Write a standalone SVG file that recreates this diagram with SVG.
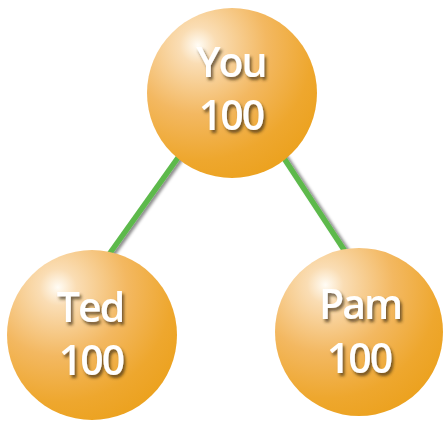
<svg xmlns="http://www.w3.org/2000/svg" width="443" height="421" viewBox="0 0 443 421">
  <defs>
    <radialGradient id="ball" cx="0.3" cy="0.22" r="0.9" fx="0.3" fy="0.22">
      <stop offset="0" stop-color="#FFFCF5"/>
      <stop offset="0.12" stop-color="#FADDB4"/>
      <stop offset="0.45" stop-color="#F3B861"/>
      <stop offset="0.75" stop-color="#EEA72E"/>
      <stop offset="1" stop-color="#EBA01A"/>
    </radialGradient>
    <filter id="textShadow" x="-20%" y="-20%" width="150%" height="160%">
      <feGaussianBlur in="SourceAlpha" stdDeviation="1.5"/>
      <feOffset dx="1.5" dy="2.5" result="blur"/>
      <feFlood flood-color="#3a2a10" flood-opacity="0.7"/>
      <feComposite in2="blur" operator="in"/>
      <feMerge>
        <feMergeNode/>
        <feMergeNode in="SourceGraphic"/>
      </feMerge>
    </filter>
    <filter id="lineShadow" x="-30%" y="-10%" width="160%" height="120%">
      <feGaussianBlur in="SourceAlpha" stdDeviation="1.5"/>
      <feOffset dx="3" dy="1" result="blur"/>
      <feFlood flood-color="#000" flood-opacity="0.45"/>
      <feComposite in2="blur" operator="in"/>
      <feMerge>
        <feMergeNode/>
        <feMergeNode in="SourceGraphic"/>
      </feMerge>
    </filter>
  </defs>
  <style>
    .edge { stroke: #5DB94B; stroke-width: 5.5; fill: none; }
    .ball { fill: url(#ball); }
    .label { font-family: "Open Sans", "Liberation Sans", sans-serif; font-weight: 600; font-size: 41px; fill: #ffffff; text-anchor: middle; letter-spacing: -2px; }
  </style>

  <rect width="443" height="421" fill="#ffffff"/>

  <g id="connectors" filter="url(#lineShadow)">
    <line class="edge" x1="192" y1="138" x2="100" y2="267"/>
    <line class="edge" x1="272" y1="140" x2="354" y2="265"/>
  </g>

  <g id="node-you">
    <circle class="ball" cx="232" cy="93" r="85"/>
    <text class="label" filter="url(#textShadow)"><tspan x="231" y="77">You</tspan><tspan x="231" y="130">100</tspan></text>
  </g>

  <g id="node-ted">
    <circle class="ball" cx="92" cy="335" r="85"/>
    <text class="label" filter="url(#textShadow)"><tspan x="90" y="322">Ted</tspan><tspan x="91" y="375">100</tspan></text>
  </g>

  <g id="node-pam">
    <circle class="ball" cx="359" cy="332" r="84"/>
    <text class="label" filter="url(#textShadow)"><tspan x="360" y="319">Pam</tspan><tspan x="359" y="373">100</tspan></text>
  </g>
</svg>
